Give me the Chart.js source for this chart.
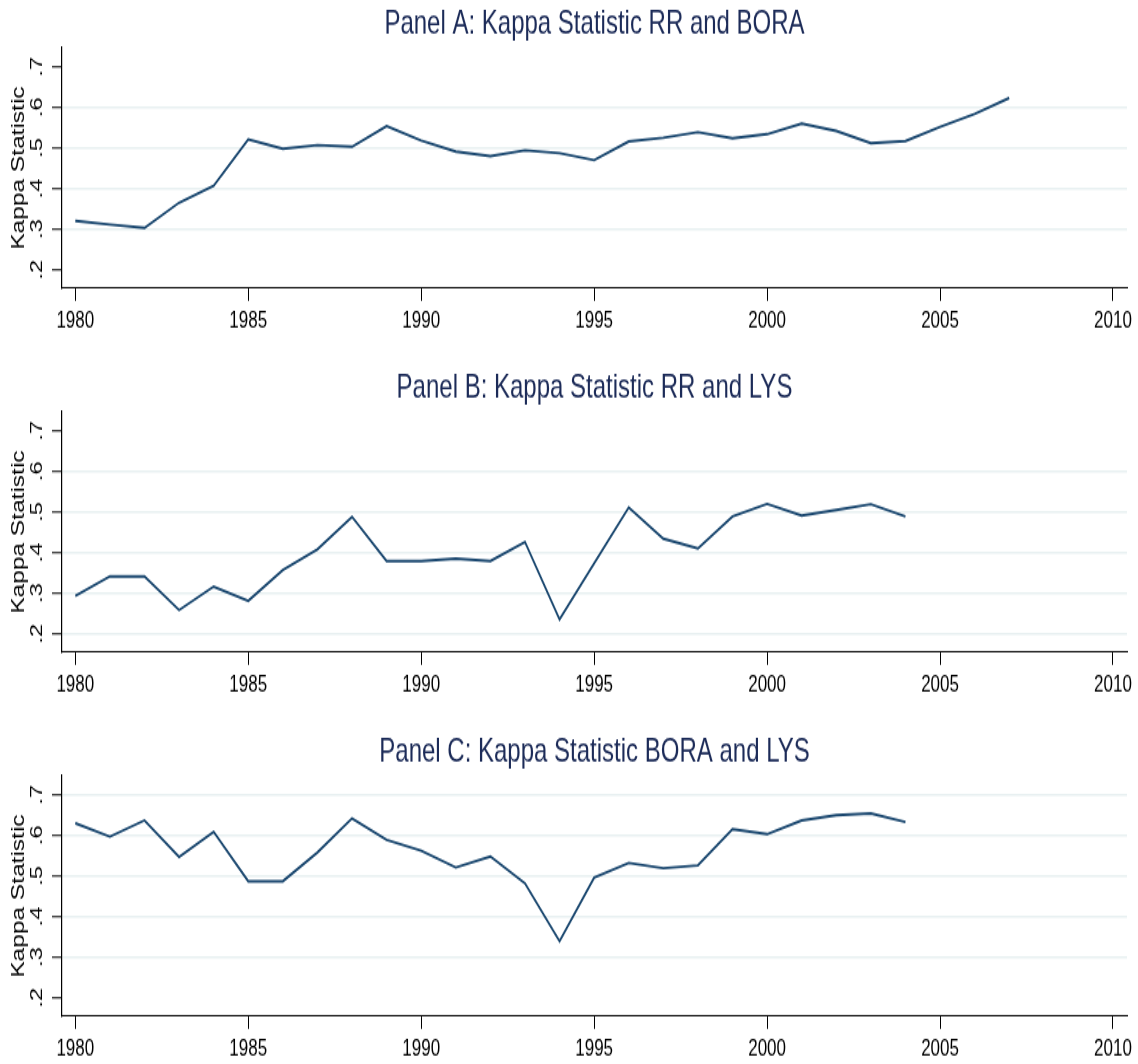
<!DOCTYPE html>
<html><head><meta charset="utf-8">
<script src="https://cdn.jsdelivr.net/npm/chart.js@4"></script>
<style>
html,body{margin:0;padding:0;background:#fff;overflow:hidden;}
#wrap{position:relative;width:1138px;height:1064px;overflow:hidden;background:#fff;}
canvas{position:absolute;left:0;transform:scaleY(1.4);transform-origin:0 0;}
</style></head><body>
<div id="wrap">
<canvas id="cA" width="1138" height="260" style="top:0px;width:1138px;height:260px"></canvas>
<canvas id="cB" width="1138" height="260" style="top:364px;width:1138px;height:260px"></canvas>
<canvas id="cC" width="1138" height="260" style="top:728px;width:1138px;height:260px"></canvas>
</div>
<script>
// ---- data ----
const yearsA = [1980,1981,1982,1983,1984,1985,1986,1987,1988,1989,1990,1991,1992,1993,1994,1995,1996,1997,1998,1999,2000,2001,2002,2003,2004,2005,2006,2007];
const yearsBC = [1980,1981,1982,1983,1984,1985,1986,1987,1988,1989,1990,1991,1992,1993,1994,1995,1996,1997,1998,1999,2000,2001,2002,2003,2004];
const kappaRRBORA = [0.320,0.311,0.303,0.365,0.407,0.521,0.498,0.507,0.503,0.554,0.518,0.491,0.480,0.494,0.487,0.470,0.516,0.525,0.539,0.524,0.534,0.560,0.542,0.512,0.517,0.552,0.584,0.623];
const kappaRRLYS = [0.293,0.341,0.341,0.258,0.316,0.281,0.357,0.408,0.488,0.379,0.379,0.385,0.379,0.426,0.235,0.373,0.511,0.434,0.410,0.489,0.520,0.491,0.505,0.519,0.489];
const kappaBORALYS = [0.630,0.597,0.637,0.547,0.609,0.487,0.487,0.558,0.642,0.589,0.562,0.521,0.548,0.482,0.339,0.496,0.532,0.519,0.526,0.615,0.603,0.637,0.650,0.654,0.633];
const xTicks = [1980,1985,1990,1995,2000,2005,2010];
const yTicks = [0.2,0.3,0.4,0.5,0.6,0.7];
const yTickLabels = ['.2','.3','.4','.5','.6','.7'];
const titles = ['Panel A: Kappa Statistic RR and BORA','Panel B: Kappa Statistic RR and LYS','Panel C: Kappa Statistic BORA and LYS'];
const yTitle = 'Kappa Statistic';
const gridA = [0.3,0.4,0.5,0.6];
const gridB = [0.2,0.3,0.4,0.5,0.6];
const gridC = [0.3,0.4,0.5,0.6,0.7];

// ---- styling ----
const FONT = "'Liberation Sans', Arial, Helvetica, sans-serif";
Chart.defaults.font.family = FONT;
Chart.defaults.color = '#000';

function makePanel(id, title, years, vals, gridVals) {
  const pts = years.map((yr, i) => ({x: yr, y: vals[i]}));
  return new Chart(document.getElementById(id), {
    type: 'line',
    data: { datasets: [{ data: pts, borderColor: '#1a476f', borderWidth: 1.9, pointRadius: 0, tension: 0, fill: false }] },
    options: {
      responsive: false, animation: false, devicePixelRatio: 1,
      layout: { padding: { left: 0, right: 11, top: 0, bottom: 0 } },
      plugins: {
        legend: { display: false }, tooltip: { enabled: false },
        title: { display: true, text: title, color: '#1c2b58', fullSize: false,
          font: { family: FONT, size: 24, weight: 'normal' }, padding: { top: 3.0, bottom: 2.3 } }
      },
      scales: {
        x: {
          type: 'linear', min: 1979.615, max: 2010.405,
          afterBuildTicks: s => { s.ticks = xTicks.map(v => ({ value: v })); },
          afterFit: s => { s.height = 54.1; },
          border: { display: true, color: '#000', width: 1.1 },
          grid: { drawOnChartArea: false, color: '#000', tickColor: '#000', tickLength: 9, lineWidth: 1 },
          ticks: { minRotation: 0, maxRotation: 0, padding: 4.3, color: '#000', font: { size: 17 },
            callback: v => String(v) }
        },
        y: {
          type: 'linear', min: 0.154, max: 0.747,
          afterBuildTicks: s => { s.ticks = yTicks.map(v => ({ value: v })); },
          afterFit: s => { s.width = 62; },
          border: { display: true, color: '#000', width: 1.2 },
          grid: {
            color: c => (c.tick && gridVals.some(g => Math.abs(g - c.tick.value) < 1e-6)) ? '#e8f0f1' : 'rgba(0,0,0,0)',
            lineWidth: 1.5, tickColor: '#000', tickLength: 10, tickWidth: 1
          },
          ticks: { minRotation: 90, maxRotation: 90, crossAlign: 'center', padding: 7.5, color: '#000', font: { size: 17 },
            callback: v => { const i = yTicks.findIndex(t => Math.abs(t - v) < 1e-6); return i >= 0 ? yTickLabels[i] : ''; } },
          title: { display: true, text: yTitle, color: '#000', font: { size: 17.5 }, padding: { top: 8.2, bottom: 0 } }
        }
      }
    }
  });
}
makePanel('cA', titles[0], yearsA, kappaRRBORA, gridA);
makePanel('cB', titles[1], yearsBC, kappaRRLYS, gridB);
makePanel('cC', titles[2], yearsBC, kappaBORALYS, gridC);
</script>
</body></html>
